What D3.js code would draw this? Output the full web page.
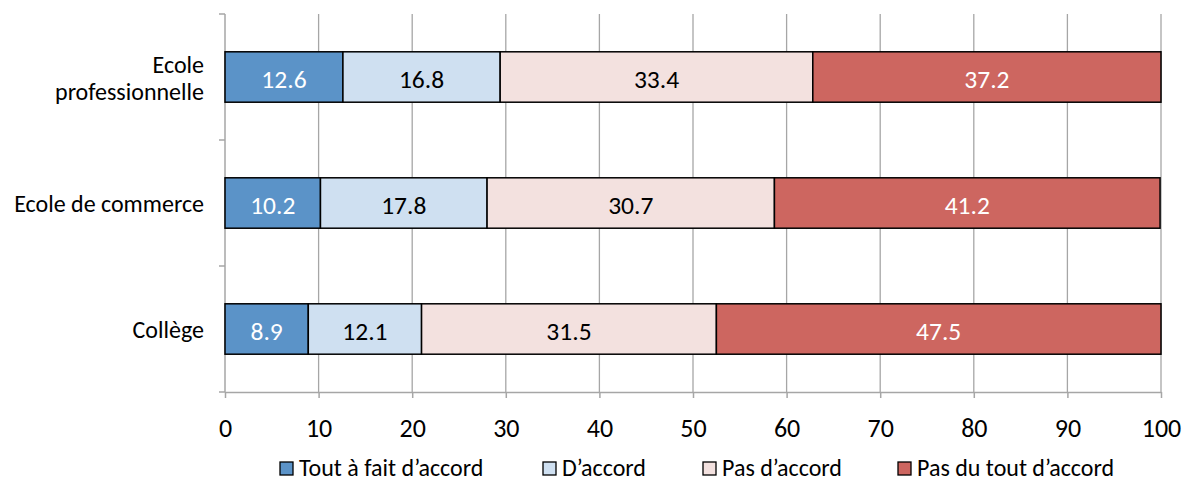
<!DOCTYPE html>
<html><head><meta charset="utf-8">
<script src="https://cdn.jsdelivr.net/npm/d3@7"></script>
<style>body{margin:0;background:#fff}svg{display:block}text{font-family:Carlito,Calibri,"Open Sans",sans-serif}</style>
</head><body><svg id="c" width="1184" height="484"></svg>
<script>
const categories = ["Ecole professionnelle", "Ecole de commerce", "Collège"];
const seriesNames = ["Tout à fait d’accord", "D’accord", "Pas d’accord", "Pas du tout d’accord"];
const toutAFait = [12.6, 10.2, 8.9];
const dAccord = [16.8, 17.8, 12.1];
const pasDAccord = [33.4, 30.7, 31.5];
const pasDuTout = [37.2, 41.2, 47.5];
const xTicks = [0, 10, 20, 30, 40, 50, 60, 70, 80, 90, 100];
const colors = ["#5b93c8", "#cfe0f1", "#f3e1df", "#cd6660"];
const labelColors = ["#fff", "#000", "#000", "#fff"];

const series = [toutAFait, dAccord, pasDAccord, pasDuTout];
const svg = d3.select("#c");
const L = 225, R = 1161, T = 14, B = 392;
const x = d3.scaleLinear().domain([0, 100]).range([L, R]);
const y = d3.scaleBand().domain(categories).range([T, B]).paddingInner(0.6).paddingOuter(0.3);
const yb = d3.scaleBand().domain(categories).range([T, B]);

// gridlines
svg.append("g").selectAll("line").data(xTicks.slice(1)).join("line")
  .attr("x1", d => x(d)).attr("x2", d => x(d)).attr("y1", T).attr("y2", B)
  .attr("stroke", "#a6a6a6").attr("stroke-width", 1.3);

// x axis
const xa = svg.append("g").attr("transform", `translate(0,${B})`)
  .call(d3.axisBottom(x).tickValues(xTicks).tickSize(6).tickSizeOuter(0));
xa.select(".domain").attr("stroke", "#a6a6a6").attr("stroke-width", 1.5);
xa.selectAll(".tick line").attr("stroke", "#a6a6a6").attr("stroke-width", 1.5);
xa.selectAll("text").attr("font-size", 26).attr("fill", "#000").attr("y", 45).attr("dy", 0);

// y axis line + ticks at band boundaries
svg.append("line").attr("x1", L).attr("x2", L).attr("y1", T).attr("y2", B)
  .attr("stroke", "#a6a6a6").attr("stroke-width", 1.5);
const bounds = categories.map(c => yb(c)).concat([B]);
svg.append("g").selectAll("line").data(bounds).join("line")
  .attr("x1", L - 6).attr("x2", L).attr("y1", d => d).attr("y2", d => d)
  .attr("stroke", "#a6a6a6").attr("stroke-width", 1.5);

// bars
categories.forEach((c, i) => {
  let acc = 0;
  series.forEach((s, j) => {
    const v = s[i];
    const x0 = x(acc), x1 = x(acc + v);
    svg.append("rect").attr("x", x0).attr("y", y(c)).attr("width", x1 - x0).attr("height", y.bandwidth())
      .attr("fill", colors[j]).attr("stroke", "#000").attr("stroke-width", 1.5);
    svg.append("text").attr("x", (x0 + x1) / 2).attr("y", y(c) + y.bandwidth() / 2 + 11)
      .attr("text-anchor", "middle")
      .attr("font-size", 25.5).attr("fill", labelColors[j]).text(v.toFixed(1));
    acc += v;
  });
});

// category labels
categories.forEach(c => {
  const cy = yb(c) + yb.bandwidth() / 2;
  const t = svg.append("text").attr("x", 204).attr("text-anchor", "end").attr("font-size", 24).attr("fill", "#000");
  if (c === "Ecole professionnelle") {
    t.append("tspan").attr("x", 204).attr("y", cy - 4).text("Ecole");
    t.append("tspan").attr("x", 204).attr("y", cy + 23).text("professionnelle");
  } else {
    t.attr("y", cy + 9).text(c);
  }
});

// legend
const legX = [280, 543, 703, 898];
const lg = svg.append("g");
seriesNames.forEach((n, j) => {
  lg.append("rect").attr("x", legX[j]).attr("y", 462).attr("width", 13).attr("height", 13)
    .attr("fill", colors[j]).attr("stroke", "#000").attr("stroke-width", 1.3);
  lg.append("text").attr("x", legX[j] + 19).attr("y", 476)
    .attr("font-size", 24).attr("fill", "#000").text(n);
});
</script></body></html>
